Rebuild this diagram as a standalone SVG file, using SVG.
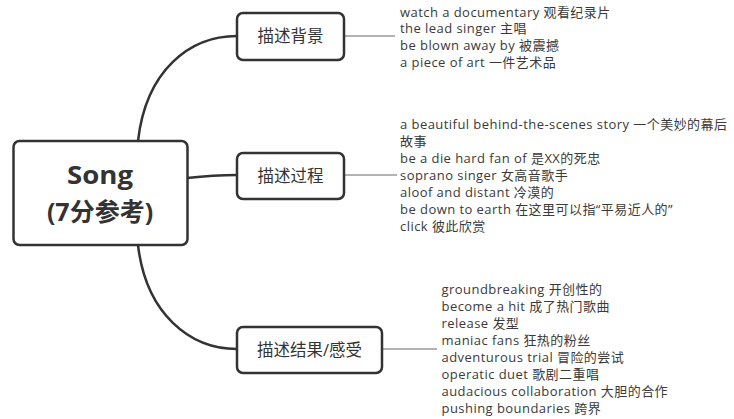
<svg xmlns="http://www.w3.org/2000/svg" width="734" height="419" viewBox="0 0 734 419">
<style>
.box{fill:#fff;stroke:#333;stroke-width:2.5}
.conn{fill:none;stroke:#333;stroke-width:2.5}
.thin{fill:none;stroke:#666;stroke-width:1}
.root{font-family:"Open Sans","Noto Sans CJK SC",sans-serif;font-weight:bold;font-size:25px;fill:#333;text-anchor:middle}
.lbl{font-family:"Open Sans","Noto Sans CJK SC",sans-serif;font-size:16.5px;fill:#333;text-anchor:middle}
.item{font-family:"Open Sans","Noto Sans CJK SC",sans-serif;font-size:13px;letter-spacing:0.45px;fill:#3a3a3a}
</style>
<rect width="734" height="419" fill="#fff"/>
<g id="connectors">
<path class="conn" d="M138,141 C146,70 190,36 237,36"/>
<path class="conn" d="M187,178 C205,176 215,175 237,175"/>
<path class="conn" d="M138,245 C146,314 190,349 237,349"/>
<path class="thin" d="M344,36 H395"/>
<path class="thin" d="M344,175 H397"/>
<path class="thin" d="M382,349 H437"/>
</g>
<g id="root">
<rect class="box" x="13.5" y="141" width="174" height="104" rx="6"/>
<text class="root" x="100" y="184" textLength="66" lengthAdjust="spacingAndGlyphs">Song</text>
<text class="root" x="100" y="221">(7分参考)</text>
</g>
<g id="n1">
<rect class="box" x="237" y="13" width="107" height="47" rx="6"/>
<text class="lbl" x="290.5" y="42">描述背景</text>
</g>
<g id="n2">
<rect class="box" x="237" y="153" width="107" height="46" rx="6"/>
<text class="lbl" x="290.5" y="182">描述过程</text>
</g>
<g id="n3">
<rect class="box" x="237" y="327" width="145" height="46" rx="6"/>
<text class="lbl" x="309.5" y="356">描述结果/感受</text>
</g>
<g id="items1" class="item">
<text x="400" y="16.5">watch a documentary 观看纪录片</text>
<text x="400" y="33">the lead singer 主唱</text>
<text x="400" y="49.5">be blown away by 被震撼</text>
<text x="400" y="66.5">a piece of art  一件艺术品</text>
</g>
<g id="items2" class="item">
<text x="400" y="128.5">a beautiful behind-the-scenes story 一个美妙的幕后</text>
<text x="400" y="145.5">故事</text>
<text x="400" y="163">be a die hard fan of 是XX的死忠</text>
<text x="400" y="180">soprano singer 女高音歌手</text>
<text x="400" y="197">aloof and distant 冷漠的</text>
<text x="400" y="213.5">be down to earth 在这里可以指“平易近人的”</text>
<text x="400" y="230.5">click 彼此欣赏</text>
</g>
<g id="items3" class="item">
<text x="441.5" y="294">groundbreaking 开创性的</text>
<text x="441.5" y="311">become a hit 成了热门歌曲</text>
<text x="441.5" y="328">release 发型</text>
<text x="441.5" y="345">maniac fans 狂热的粉丝</text>
<text x="441.5" y="362">adventurous trial 冒险的尝试</text>
<text x="441.5" y="379">operatic duet 歌剧二重唱</text>
<text x="441.5" y="396">audacious collaboration 大胆的合作</text>
<text x="441.5" y="413">pushing boundaries 跨界</text>
</g>
</svg>
